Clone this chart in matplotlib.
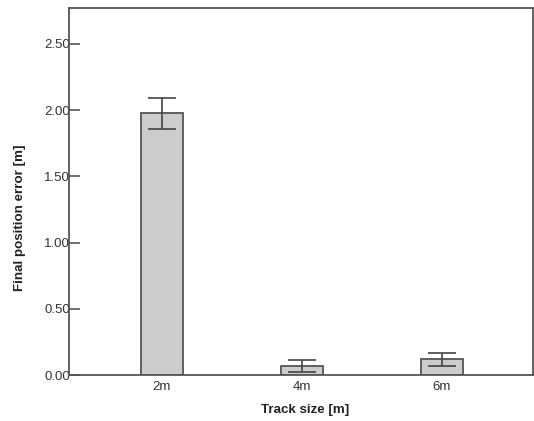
import numpy as np
import matplotlib.pyplot as plt

plt.rcParams['font.family'] = ['Liberation Sans', 'DejaVu Sans']

# datos
categorias = ['2m', '4m', '6m']
medias = [1.975, 0.07, 0.118]
errores = [0.118, 0.045, 0.048]
yticks = [0.0, 0.5, 1.0, 1.5, 2.0, 2.5]

fig = plt.figure(figsize=(5.34, 4.21), dpi=100)
ax = fig.add_axes([0.129, 0.109, 0.869, 0.872])

x = np.arange(len(categorias))
ax.bar(x, medias, width=0.3, color='#cccccc', edgecolor='#555555', linewidth=1.3, zorder=2)
ax.errorbar(x, medias, yerr=errores, fmt='none', ecolor='#444444', elinewidth=1.2,
            capsize=10, capthick=1.2, zorder=3)

ax.set_xlim(-0.664, 2.65)
ax.set_ylim(0, 2.77)
ax.set_xticks(x)
ax.set_xticklabels(categorias, fontsize=9.5, color='#333333')
ax.set_yticks(yticks)
ax.set_yticklabels([f'{v:.2f}' for v in yticks], fontsize=9.5, color='#333333')
ax.tick_params(axis='y', direction='in', length=8, width=1.2, color='#555555', pad=-1)
ax.tick_params(axis='x', length=0, pad=4)

for s in ax.spines.values():
    s.set_color('#555555')
    s.set_linewidth(1.3)

ax.set_xlabel('Track size [m]', fontsize=9.6, fontweight='bold', color='#222222')
ax.set_ylabel('Final position error [m]', fontsize=9.6, fontweight='bold', color='#222222')
ax.xaxis.set_label_coords(0.509, -0.08)
ax.yaxis.set_label_coords(-0.093, 0.428)

fig.savefig('out.png', dpi=100)
